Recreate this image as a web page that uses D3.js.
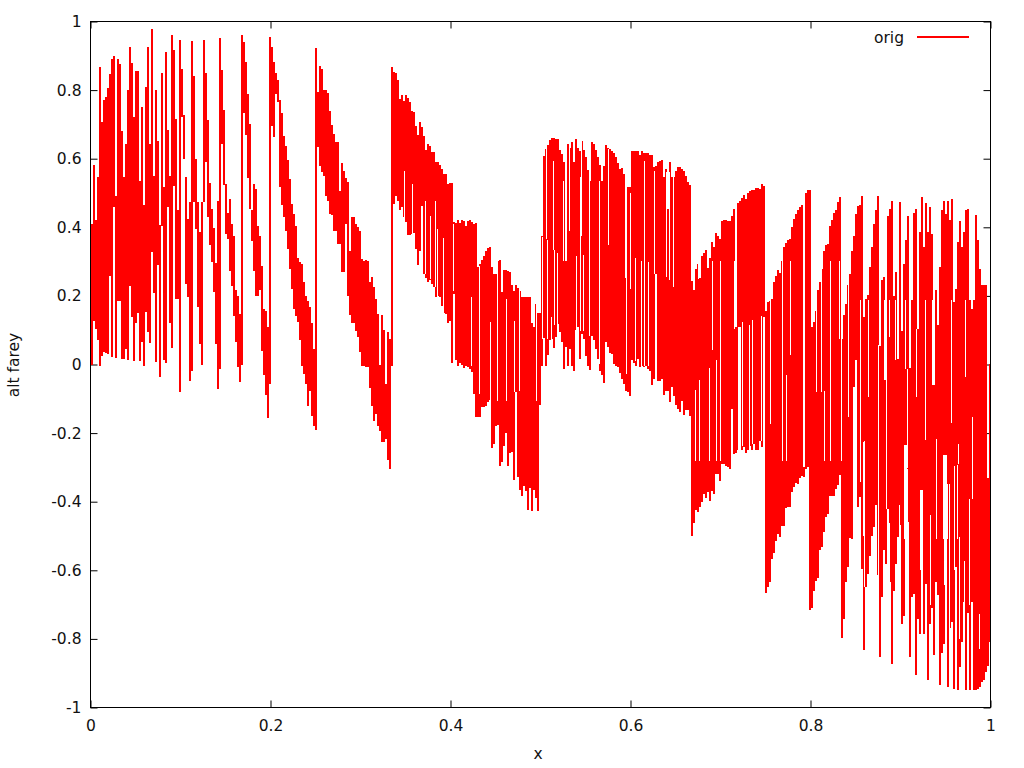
<!DOCTYPE html>
<html>
<head>
<meta charset="utf-8">
<script src="https://cdn.jsdelivr.net/npm/d3@7"></script>
<style>
html,body{margin:0;padding:0;background:#fff;}
svg{display:block;}
text{font-family:"DejaVu Sans",sans-serif;font-size:15.5px;fill:#111;}
</style>
</head>
<body>
<svg id="c" width="1024" height="768"></svg>
<script>
// Each row holds ten sampled columns across x; one high and one low reading per column.
const highValues = [
.41,.583,.42,.546,.867,.708,.77,.78,.807,.847,
.89,.90,.49,.89,.876,.68,.548,.643,.80,.925,
.88,.723,.857,.857,.536,.752,.464,.81,.925,.643,
.977,.55,.80,.653,.408,.851,.517,.91,.685,.55,
.96,.917,.716,.449,.947,.862,.726,.546,.425,.475,
.943,.842,.60,.473,.386,.473,.947,.85,.714,.53,
.452,.398,.296,.478,.952,.86,.742,.525,.441,.483,
.41,.376,.218,.20,.146,.96,.94,.883,.789,.70,
.449,.527,.512,.405,.376,.286,.162,.155,.109,.956,
.927,.881,.85,.83,.77,.733,.665,.638,.595,.541,
.468,.439,.405,.31,.298,.293,.24,.2,.185,.167,
.12,.046,.923,.794,.869,.862,.80,.80,.792,.74,
.697,.672,.65,.648,.507,.588,.565,.544,.531,.33,
.43,.43,.41,.40,.39,.308,.303,.305,.303,.24,
.256,.225,.19,.146,0,.143,.10,-.056,.096,.075,
.866,.854,.85,.828,.774,.787,.769,.787,.777,.766,
.74,.735,.695,.67,.708,.693,.667,.626,.643,.638,
.62,.619,.589,.589,.583,.57,.556,.556,.526,.53,
.53,.415,.412,.422,.413,.422,.418,.405,.418,.42,
.415,.41,.412,.285,.293,.305,.317,.332,.34,.344,
.283,.264,.264,.303,.306,.21,.276,.276,.272,.27,
.233,.215,.233,.223,.213,.196,.198,.198,.196,.196,
.12,.109,.175,.15,.15,.376,.609,.628,.641,.655,
.66,.66,.658,.656,.626,.614,.59,.301,.643,.631,
.648,.59,.658,.631,.623,.653,.625,.604,.568,.534,
.65,.643,.625,.606,.583,.534,.58,.641,.631,.628,
.622,.616,.604,.587,.57,.573,.556,.252,.517,.517,
.622,.622,.622,.622,.612,.622,.616,.616,.618,.612,
.612,.575,.58,.59,.594,.596,.546,.57,.452,.59,
.546,.546,.565,.575,.575,.57,.565,.551,.531,.522,
.242,.216,.277,.292,.252,.315,.325,.335,.28,.31,
.358,.344,.384,.376,.366,.418,.42,.42,.417,.417,
.434,.454,.109,.47,.478,.486,.493,.483,.50,.507,
.509,.509,.515,.515,.512,.525,.519,.157,.182,.185,
.19,.24,.257,.276,.266,.303,.342,.354,.364,.366,
.402,.425,.44,.45,.46,.465,-.30,.50,.509,.509,
.11,.125,.155,.216,.24,.278,.33,.347,.352,.405,
.422,.441,.451,.473,.488,.075,.143,.175,.233,.264,
.332,.376,.44,.461,.464,.49,.138,.192,.204,.284,
.342,.41,.449,.49,.055,.245,.255,-.045,.432,.454,
.478,.201,.271,.016,.475,.097,.293,.362,.432,-.01,
.187,.441,.454,.104,.386,.488,.344,.471,.386,.459,
.381,-.06,.217,.114,.284,.449,.478,.44,.478,.422,
.483,.182,.22,.357,.418,.344,.386,.451,.452,.188,
.162,.188,.437,.362,.279,.233,.233,.233,-.33,.002
];
const lowValues = [
0,.128,.104,.07,-.003,.026,.036,.033,.03,.257,
.023,.459,.02,.186,.186,.016,.015,.044,.012,.23,
.138,.01,.12,.15,.01,.067,-.003,.152,.094,.062,
.327,.208,.007,.29,-.037,.405,.014,.004,.459,.12,
.047,.52,.19,.19,-.08,.721,.60,.235,.198,-.047,
-.02,.473,.395,.169,.06,0,.473,.59,.43,.347,
.298,.21,.06,-.07,-.013,.643,.522,.381,.366,.274,
.23,.14,.067,-.006,-.05,0,.733,.67,.543,.454,
.36,.274,.20,.20,.216,.039,-.03,-.088,-.156,-.056,
.694,.663,.79,.765,.517,.464,.43,.39,.337,.279,
.22,.162,.14,.123,.07,-.003,-.027,-.056,-.122,-.076,
-.149,-.18,-.19,.635,.58,.56,.549,.49,.478,.439,
.437,.39,.388,.35,.352,.27,.27,.41,.20,.145,
.12,.12,.097,.08,.036,-.003,-.003,-.006,-.008,-.069,
-.12,-.166,-.144,-.178,-.194,-.226,-.226,-.217,-.277,-.306,
-.003,.468,.492,.478,.449,.46,.431,.416,.379,.379,
.381,.383,.337,.291,.33,.303,.264,.252,.24,.245,
.235,.225,.196,.2,.196,.172,.15,.148,.12,.128,
.004,.206,.012,-.003,.005,0,-.01,-.003,-.006,-.012,
-.022,-.086,-.154,-.152,-.152,-.125,-.125,-.12,-.108,-.103,
-.244,-.231,-.178,-.176,-.295,-.285,-.238,-.2,-.296,-.258,
-.254,-.338,-.081,-.327,-.367,-.382,-.353,-.37,-.423,-.36,
-.427,-.366,-.389,-.427,-.117,-.003,.077,-.003,.029,.072,
.073,.047,.08,.117,.094,.067,-.012,.05,-.003,.045,
-.003,-.02,.1,.11,.015,.09,.075,.026,-.003,-.015,
.084,.07,.045,.016,-.018,-.03,-.054,.065,.05,.033,
.031,.002,-.003,-.008,-.025,-.042,-.056,-.076,-.08,-.093,
.014,.004,-.003,.016,-.008,-.003,-.006,-.003,-.013,-.02,
-.061,-.042,.265,-.049,-.049,-.042,-.09,-.076,-.076,-.108,
-.066,-.093,-.117,-.13,-.139,-.105,-.146,-.132,-.132,-.149,
-.50,-.463,-.424,-.429,-.414,-.401,-.379,-.39,-.372,-.398,
-.37,-.379,-.319,-.319,-.34,-.29,-.29,-.295,-.30,-.306,
-.13,-.26,-.258,-.25,.109,-.25,-.24,-.258,-.248,-.238,
-.249,-.233,-.249,-.25,-.222,-.24,.138,-.667,-.65,-.633,
-.567,-.55,-.515,-.494,-.503,-.47,-.47,-.418,-.414,-.414,
-.372,-.356,-.346,-.348,-.33,-.324,-.327,-.304,-.30,-.717,
-.71,-.659,-.63,-.622,-.542,-.533,-.489,-.445,-.437,-.384,
-.384,-.382,-.362,-.35,-.323,-.798,-.742,-.635,-.589,-.505,
-.508,-.066,.012,-.414,-.387,-.596,-.832,-.649,-.612,-.557,
-.50,-.474,-.411,-.615,-.853,-.678,-.542,-.581,-.421,-.635,
-.873,-.659,-.581,-.503,-.467,-.758,-.732,-.236,-.46,-.853,
-.678,-.669,-.904,-.742,-.785,-.367,-.785,-.64,-.919,-.756,
-.71,-.848,-.635,-.673,-.933,-.842,-.816,-.265,-.939,-.768,
-.751,-.946,-.591,-.948,-.882,-.81,-.693,-.95,-.724,-.95,
-.693,-.95,-.95,-.946,-.941,-.926,-.919,-.897,-.88,-.81
];
// Narrow gaps seen between neighbouring spikes: position, upper end, lower end.
const gapX = [
.349,.358,.368,.369,.372,.378,.383,.385,.386,.392,.392,.403,.403,.423,.432,.444,.452,.462,.471,.477,.496,
.502,.507,.508,.512,.514,.516,.519,.526,.532,.540,.544,.544,.546,.548,.554,.554,.566,.575,.595,.6,.606,.612,.615,.62,.627,.64,.643,.648,
.672,.675,.677,.688,.691,.695,.7,.715,.72,.724,.732,.735,.746,.755,.769,.773,.778,.807,.812,.815,.822,.832,.834,.842,
.856,.859,.86,.864,.872,.875,.876,.882,.882,.884,.888,.888,.894,.899,.904,.905,.908,.908,.918,.922,.928,.933,.936,.94,.948,.949,.952,.954,.957,.96,.963,.964,.966,.971,.972,.977,.98,.988
];
const gapHigh = [
.565,.526,.463,.463,.478,.434,.478,.393,.395,.369,.367,.41,.396,.196,.288,.123,.305,.191,.128,.22,.177,
.373,.65,.364,.138,.594,.335,.324,.536,.643,.315,.279,.546,.653,.318,.368,.534,.534,.628,.254,.5,.31,.303,.594,.30,.565,.56,.56,.55,
-.073,.303,-.044,-.011,.303,.014,.303,.303,.109,.123,.116,.13,.14,.189,.303,-.032,.303,.201,.303,-.076,.303,.303,.075,.303,
.187,-.226,-.222,.187,-.411,.056,-.28,.187,-.547,-.046,.187,-.463,.187,-.411,-.236,.187,-.012,-.304,.104,-.367,.187,-.44,.187,-.217,-.265,-.265,-.348,-.348,.187,-.295,-.294,-.231,-.504,-.572,.187,-.392,-.153,-.727
];
const gapLow = [
.381,.381,.303,.259,.264,.25,.227,.2,.196,.148,.2,.214,.216,-.003,-.085,-.105,-.105,-.105,-.08,-.076,-.105,
.075,.366,.075,.05,.335,.116,.094,.301,.389,.089,.099,.279,.376,.099,.084,.368,.002,.347,-.027,.22,.011,-.003,-.003,-.003,.264,.254,.245,.227,
-.28,.25,-.28,-.28,.041,-.28,-.28,.104,-.25,-.237,-.246,-.232,-.222,-.173,-.28,-.28,.029,-.081,-.081,-.28,-.28,.075,-.28,-.152,
-.343,-.5,-.649,-.095,-.615,-.28,-.8,-.044,-.65,-.42,.08,-.77,.012,-.6,-.51,-.012,-.302,-.55,-.095,-.6,-.221,-.7,-.061,-.51,-.51,-.644,-.51,-.77,-.172,-.6,-.51,-.29,-.8,-.8,-.037,-.7,-.391,-.83
];
const xTicks = [0,0.2,0.4,0.6,0.8,1];
const yTicks = [-1,-0.8,-0.6,-0.4,-0.2,0,0.2,0.4,0.6,0.8,1];
const seriesName = "orig";
const xTitle = "x";
const yTitle = "alt farey";

const plotLeft = 90.5, plotRight = 990.5, plotTop = 21.5, plotBottom = 707.5, tickLen = 7;
const xScale = d3.scaleLinear().domain([0,1]).range([plotLeft,plotRight]);
const yScale = d3.scaleLinear().domain([-1,1]).range([plotBottom,plotTop]);
const svg = d3.select("#c");
const fmt = d => String(d);

function axis(gen, tx, ty, labels) {
  const g = svg.append("g").attr("transform",`translate(${tx},${ty})`).call(gen);
  g.select(".domain").remove();
  g.selectAll("line").attr("stroke","#000").attr("stroke-width",1);
  if (!labels) g.selectAll("text").remove();
  return g;
}
axis(d3.axisBottom(xScale).tickValues(xTicks).tickFormat(fmt).tickSize(-tickLen).tickPadding(12),0,plotBottom,true);
axis(d3.axisTop(xScale).tickValues(xTicks).tickSize(-tickLen),0,plotTop,false);
axis(d3.axisLeft(yScale).tickValues(yTicks).tickFormat(fmt).tickSize(-tickLen).tickPadding(9),plotLeft,0,true);
axis(d3.axisRight(yScale).tickValues(yTicks).tickSize(-tickLen),plotRight,0,false);
svg.selectAll("g text").style("font-family",'"DejaVu Sans",sans-serif').style("font-size","15.5px").attr("fill","#111");

svg.append("g").attr("stroke","#f00").attr("stroke-width",2).attr("shape-rendering","crispEdges")
  .selectAll("line").data(d3.range(Math.min(highValues.length,lowValues.length))).join("line")
  .attr("x1",i=>xScale((i+.5)/highValues.length)).attr("x2",i=>xScale((i+.5)/highValues.length))
  .attr("y1",i=>yScale(highValues[i])).attr("y2",i=>yScale(lowValues[i]));

svg.append("g").attr("stroke","#fff").attr("stroke-width",1).attr("shape-rendering","crispEdges")
  .selectAll("line").data(gapX).join("line")
  .attr("x1",d=>xScale(d)).attr("x2",d=>xScale(d))
  .attr("y1",(d,i)=>yScale(gapHigh[i])).attr("y2",(d,i)=>yScale(gapLow[i]));

svg.append("rect").attr("x",plotLeft).attr("y",plotTop).attr("width",plotRight-plotLeft).attr("height",plotBottom-plotTop)
  .attr("fill","none").attr("stroke","#000").attr("stroke-width",1);

svg.append("text").attr("x",538).attr("y",759).attr("text-anchor","middle").text(xTitle);
svg.append("text").attr("transform","translate(19,365) rotate(-90)").attr("text-anchor","middle").text(yTitle);
svg.append("text").attr("x",904).attr("y",43).attr("text-anchor","end").text(seriesName);
svg.append("line").attr("x1",917).attr("x2",969).attr("y1",37).attr("y2",37).attr("stroke","#f00").attr("stroke-width",2).attr("shape-rendering","crispEdges");
</script>
</body>
</html>
